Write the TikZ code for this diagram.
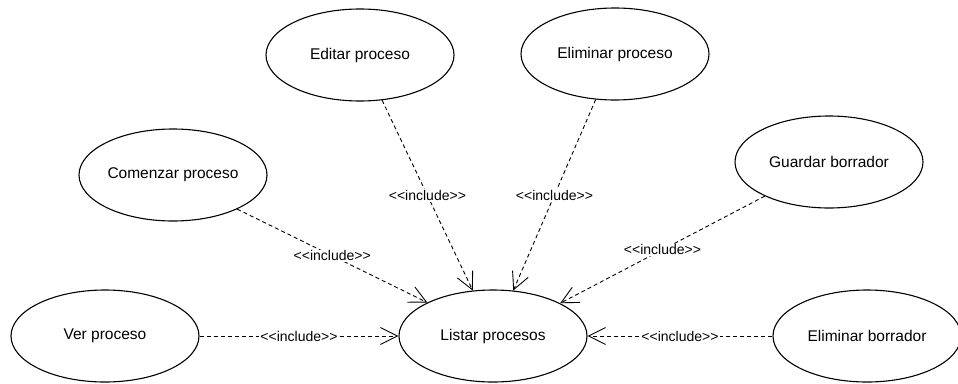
\documentclass[tikz,border=0pt]{standalone}
\usepackage{fontspec}
\setmainfont{Liberation Sans}
\usetikzlibrary{shapes.geometric, arrows.meta}
% the kerns keep << and >> from turning into guillemets
\newcommand{\inclabel}{<\kern0pt<include>\kern0pt>}
\tikzset{
  uc/.style  = {draw, ellipse, minimum width=188pt, minimum height=92pt,
                inner sep=0pt, line width=1.1pt,
                font=\fontsize{15.5}{18}\selectfont},
  inc/.style = {-{Straight Barb[length=17pt, width=17pt]},
                dash pattern=on 4pt off 3pt, line width=0.9pt},
  lbl/.style = {font=\fontsize{14}{16}\selectfont, fill=white, inner sep=1pt},
}

\begin{document}
\begin{tikzpicture}[x=1pt, y=-1pt]
  \useasboundingbox (0,0) rectangle (958,383);
  % use cases
  \node[uc] (list)  at (493,336) {Listar procesos};
  \node[uc] (edit)  at (360,55)  {Editar proceso};
  \node[uc] (delp)  at (615,54)  {Eliminar proceso};
  \node[uc] (start) at (173,175) {Comenzar proceso};
  \node[uc] (save)  at (829,162) {Guardar borrador};
  \node[uc] (view)  at (105,336) {Ver proceso};
  \node[uc] (deld)  at (867,336) {Eliminar borrador};
  % include relations
  \draw[inc] (edit.-64)    -- node[lbl] {\inclabel} (list.114);
  \draw[inc] (delp.-113)   -- node[lbl] {\inclabel} (list.66);
  \draw[inc] (start.-28)   -- node[lbl] {\inclabel} (list.153);
  \draw[inc] (save.-152)   -- node[lbl] {\inclabel} (list.26);
  \draw[inc] (view.east)   -- node[lbl] {\inclabel} (list.west);
  \draw[inc] (deld.west)   -- node[lbl] {\inclabel} (list.east);
\end{tikzpicture}
\end{document}
